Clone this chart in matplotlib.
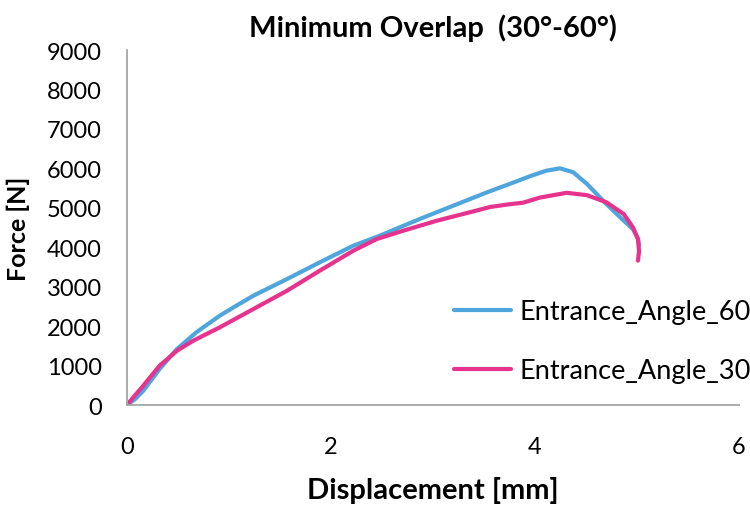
import matplotlib
matplotlib.use("Agg")
import matplotlib.pyplot as plt

plt.rcParams['font.family'] = ['Lato', 'DejaVu Sans']

# Force-displacement curves for two entrance angles
disp_60 = [0, 0.08, 0.16, 0.32, 0.49, 0.68, 0.91, 1.08, 1.24, 1.57, 1.89, 2.22,
           2.48, 2.87, 3.20, 3.53, 3.85, 3.95, 4.11, 4.245, 4.375, 4.51, 4.70,
           4.87, 4.96, 5.01, 5.02]
force_60 = [0, 150, 363, 913, 1420, 1843, 2265, 2530, 2772, 3194, 3617, 4040,
            4293, 4716, 5054, 5392, 5700, 5800, 5940, 6000, 5900, 5603, 5096,
            4674, 4462, 4209, 4050]

disp_30 = [0, 0.08, 0.16, 0.32, 0.49, 0.65, 0.91, 1.24, 1.57, 1.89, 2.22, 2.45,
           2.71, 3.04, 3.36, 3.56, 3.75, 3.885, 4.05, 4.31, 4.51, 4.70, 4.87,
           4.96, 5.01, 5.02, 5.01]
force_30 = [0, 250, 490, 997, 1377, 1631, 1969, 2434, 2899, 3406, 3913, 4209,
            4420, 4674, 4885, 5020, 5090, 5130, 5260, 5380, 5320, 5139, 4843,
            4505, 4209, 3900, 3660]

series_labels = ["Entrance_Angle_60", "Entrance_Angle_30"]
x_ticks = [0, 2, 4, 6]
y_ticks = list(range(0, 9001, 1000))

fig = plt.figure(figsize=(7.5, 5.06), dpi=100)
ax = fig.add_axes([0.1693, 0.1976, 0.816, 0.7016])

ax.plot(disp_60, force_60, color="#4EA6DC", lw=3, label=series_labels[0],
        solid_capstyle="round", solid_joinstyle="round")
ax.plot(disp_30, force_30, color="#E5338E", lw=3, label=series_labels[1],
        solid_capstyle="round", solid_joinstyle="round")

ax.set_xlim(0, 6)
ax.set_ylim(0, 9000)
ax.set_xticks(x_ticks)
ax.set_yticks(y_ticks)
ax.tick_params(axis="both", length=0, labelsize=17)
ax.tick_params(axis="x", pad=22)
ax.tick_params(axis="y", pad=18)

for side in ("top", "right"):
    ax.spines[side].set_visible(False)
for side in ("left", "bottom"):
    ax.spines[side].set_color("#A6A6A6")
    ax.spines[side].set_linewidth(1.3)

ax.set_xlabel("Displacement [mm]", fontsize=21, fontweight="bold", labelpad=14)
ax.set_ylabel("Force [N]", fontsize=18, fontweight="bold", labelpad=12)
ax.set_title("Minimum Overlap  (30°-60°)", fontsize=21, fontweight="bold", pad=10)

ax.legend(loc="center left", bbox_to_anchor=(0.495, 0.18), frameon=False,
          fontsize=19.5, handlelength=2.1, handletextpad=0.3, labelspacing=1.25)

fig.savefig("out.png", dpi=100)
